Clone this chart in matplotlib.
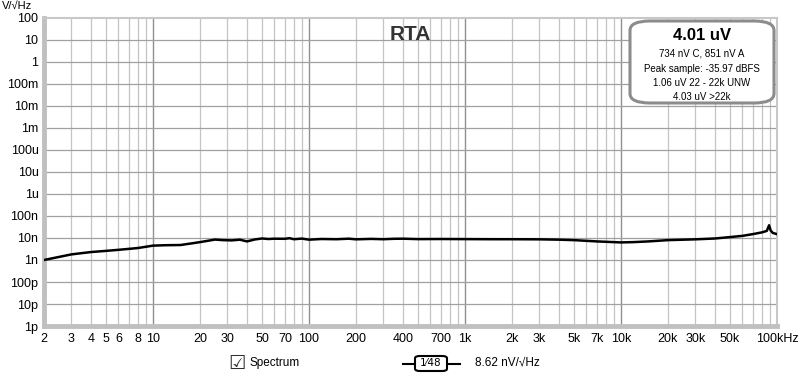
import numpy as np
import matplotlib.pyplot as plt
from matplotlib.patches import FancyBboxPatch
from matplotlib.lines import Line2D

# Spectrum (Hz, V/sqrt(Hz))
freq_hz = [2, 3, 4, 5, 6, 8, 10, 12, 15, 18, 20, 25, 28, 32, 36, 40, 45, 50, 55, 60, 70, 75,
           80, 90, 100, 120, 150, 180, 200, 250, 300, 350, 400, 500, 700, 1000, 1500,
           2000, 3000, 4000, 5000, 7000, 10000, 12000, 15000, 20000, 30000, 40000,
           50000, 60000, 70000, 80000, 86000, 89000, 91000, 94000, 100000]
level_v = [1.0e-9, 1.8e-9, 2.3e-9, 2.6e-9, 2.9e-9, 3.5e-9, 4.5e-9, 4.7e-9, 4.8e-9, 5.8e-9,
           6.5e-9, 8.5e-9, 8.0e-9, 7.8e-9, 8.4e-9, 7.0e-9, 8.6e-9, 9.5e-9, 9.0e-9, 9.3e-9,
           9.2e-9, 9.8e-9, 8.8e-9, 9.4e-9, 8.4e-9, 9.0e-9, 8.8e-9, 9.3e-9, 8.7e-9, 9.1e-9,
           8.8e-9, 9.2e-9, 9.3e-9, 8.9e-9, 9.0e-9, 8.9e-9, 8.8e-9, 8.8e-9, 8.7e-9, 8.4e-9,
           8.0e-9, 7.0e-9, 6.3e-9, 6.5e-9, 7.0e-9, 8.0e-9, 8.7e-9, 9.5e-9, 11e-9, 12.5e-9,
           15e-9, 18e-9, 21e-9, 38e-9, 22e-9, 17e-9, 15e-9]

x_ticks = [2, 3, 4, 5, 6, 8, 10, 20, 30, 50, 70, 100, 200, 400, 700, 1000, 2000, 3000,
           5000, 7000, 10000, 20000, 30000, 50000, 100000]
x_labels = ["2", "3", "4", "5", "6", "8", "10", "20", "30", "50", "70", "100", "200", "400",
            "700", "1k", "2k", "3k", "5k", "7k", "10k", "20k", "30k", "50k", "100kHz"]
y_ticks = [10.0 ** e for e in range(-12, 3)]
y_labels = ["1p", "10p", "100p", "1n", "10n", "100n", "1u", "10u", "100u",
            "1m", "10m", "100m", "1", "10", "100"]

box_lines = ["734 nV C, 851 nV A", "Peak sample: -35.97 dBFS",
             "1.06 uV 22 - 22k UNW", "4.03 uV >22k"]

plt.rcParams['font.family'] = ['Liberation Sans', 'DejaVu Sans']

fig = plt.figure(figsize=(8, 3.78), dpi=100)
ax = fig.add_axes([44 / 800, 52 / 378, 733 / 800, 308 / 378])

ax.set_xscale('log')
ax.set_yscale('log')
ax.set_xlim(2, 100000)
ax.set_ylim(1e-12, 100)

# grid: decades darker, minor lines lighter
for d in [10, 100, 1000, 10000]:
    ax.axvline(d, color='#909090', lw=1.0, zorder=1)
for d in range(0, 5):
    for m in range(2, 10):
        f = m * 10 ** d
        if 2 <= f <= 100000 and f not in (10, 100, 1000, 10000):
            ax.axvline(f, color='#c4c4c4', lw=0.9, zorder=1)
for y in y_ticks[1:-1]:
    ax.axhline(y, color='#a0a0a0', lw=0.9, zorder=1)

ax.plot(freq_hz, level_v, color='black', lw=1.8, zorder=3)

ax.set_xticks(x_ticks)
ax.set_xticklabels(x_labels)
ax.xaxis.set_minor_locator(plt.NullLocator())
ax.set_yticks(y_ticks)
ax.set_yticklabels(y_labels)
ax.yaxis.set_minor_locator(plt.NullLocator())
ax.tick_params(axis='both', length=0, labelsize=9, colors='black')
ax.tick_params(axis='x', pad=5)
ax.tick_params(axis='y', pad=4)

for side in ['left', 'bottom']:
    ax.spines[side].set_color('#c0c0c0')
    ax.spines[side].set_linewidth(3.5)
for side in ['top', 'right']:
    ax.spines[side].set_color('#c8c8c8')
    ax.spines[side].set_linewidth(1.5)

fig.text(2 / 800, 1 - 6 / 378, "V/\u221aHz", fontsize=8, va='center', ha='left')

ax.text(410 / 800, 1 - 35 / 378, "RTA", transform=fig.transFigure, fontsize=15,
        fontweight='bold', color='#333333', ha='center', va='center', zorder=5)

# info box
box = FancyBboxPatch((630 / 800, 1 - 103 / 378), 144 / 800, 82 / 378,
                     boxstyle="round,pad=0,rounding_size=0.025",
                     transform=fig.transFigure, facecolor='white',
                     edgecolor='#8c8c8c', lw=2.2, zorder=6)
fig.add_artist(box)
fig.text(702 / 800, 1 - 36 / 378, "4.01 uV", fontsize=12, fontweight='bold',
         ha='center', va='center', zorder=7)
for i, line in enumerate(box_lines):
    fig.text(702 / 800, 1 - (54 + 14.5 * i) / 378, line, fontsize=7,
             ha='center', va='center', zorder=7)

# bottom legend row
fig.text(228 / 800, 1 - 363 / 378, "\u2611", fontsize=14, ha='left', va='center',
         family=['DejaVu Sans'], color='#303030')
fig.text(250 / 800, 1 - 363 / 378, "Spectrum", fontsize=8.5, ha='left', va='center')

fig.add_artist(Line2D([403 / 800, 460 / 800], [1 - 364 / 378, 1 - 364 / 378],
                      transform=fig.transFigure, color='black', lw=1.5))
sym = FancyBboxPatch((415 / 800, 1 - 371 / 378), 32 / 800, 15 / 378,
                     boxstyle="round,pad=0,rounding_size=0.006",
                     transform=fig.transFigure, facecolor='white',
                     edgecolor='black', lw=1.5, zorder=6)
fig.add_artist(sym)
fig.text(431 / 800, 1 - 363.5 / 378, "1\u204448", fontsize=7.5, ha='center', va='center',
         zorder=7, family=['DejaVu Sans'])
fig.text(475 / 800, 1 - 363 / 378, "8.62 nV/\u221aHz", fontsize=8.5, ha='left', va='center')

fig.savefig("out.png", dpi=100, facecolor='white')
